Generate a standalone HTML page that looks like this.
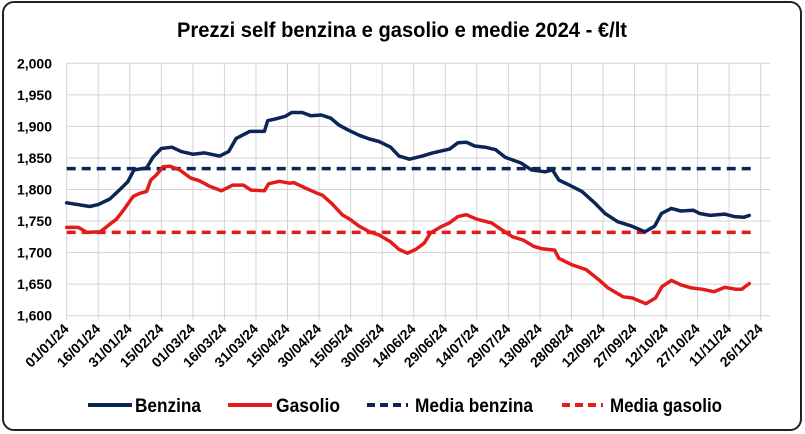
<!DOCTYPE html>
<html><head><meta charset="utf-8"><style>
html,body{margin:0;padding:0;background:#fff;}
svg{display:block;font-family:"Liberation Sans Narrow","Liberation Sans",sans-serif;}
</style></head><body>
<svg id="chart" width="805" height="434" viewBox="0 0 805 434" xmlns="http://www.w3.org/2000/svg">
<rect x="3" y="2" width="798" height="428" rx="11" fill="#fff" stroke="#222" stroke-width="2"/>
<text x="402" y="37" text-anchor="middle" font-size="21" font-weight="bold" textLength="450" lengthAdjust="spacingAndGlyphs">Prezzi self benzina e gasolio e medie 2024 - €/lt</text>
<g id="grid"></g><g id="axes"></g><g id="series"></g>
<g>
<line x1="88" y1="405" x2="132" y2="405" stroke="#0d2457" stroke-width="4"/>
<text x="135" y="412" font-size="19" font-weight="bold" textLength="66" lengthAdjust="spacingAndGlyphs">Benzina</text>
<line x1="228" y1="405" x2="272" y2="405" stroke="#e31b1b" stroke-width="4"/>
<text x="276" y="412" font-size="19" font-weight="bold" textLength="64" lengthAdjust="spacingAndGlyphs">Gasolio</text>
<line x1="367" y1="405" x2="408" y2="405" stroke="#0d2457" stroke-width="4" stroke-dasharray="8,5"/>
<text x="415" y="412" font-size="19" font-weight="bold" textLength="118" lengthAdjust="spacingAndGlyphs">Media benzina</text>
<line x1="562" y1="405" x2="603" y2="405" stroke="#e31b1b" stroke-width="4" stroke-dasharray="8,5"/>
<text x="610" y="412" font-size="19" font-weight="bold" textLength="112" lengthAdjust="spacingAndGlyphs">Media gasolio</text>
</g>
</svg>
<script>
const xTickLabels=["01/01/24","16/01/24","31/01/24","15/02/24","01/03/24","16/03/24","31/03/24","15/04/24","30/04/24","15/05/24","30/05/24","14/06/24","29/06/24","14/07/24","29/07/24","13/08/24","28/08/24","12/09/24","27/09/24","12/10/24","27/10/24","11/11/24","26/11/24"];
const yTicks=[1.6,1.65,1.7,1.75,1.8,1.85,1.9,1.95,2.0];
const benzinaDays=[0,11,15,20.5,25,29,32,38,41,45,50,54.5,60,65.6,72.7,77,80.6,87,94,95.6,99.5,104,107,112,116,121,125.6,129.5,134,139,144,148.5,154,158,163,169,174,182,186,190,194,199,204,208.5,216,221,227.5,231,234,239,245,251,256,262,268.6,275,279.6,282.8,287.5,292,298,301,306,312.8,317.5,322,324.6];
const benzinaValues=[1.779,1.773,1.776,1.785,1.799,1.812,1.831,1.834,1.851,1.865,1.867,1.860,1.856,1.858,1.853,1.860,1.881,1.892,1.892,1.909,1.912,1.916,1.922,1.922,1.917,1.918,1.913,1.902,1.894,1.886,1.880,1.876,1.867,1.853,1.848,1.853,1.858,1.864,1.874,1.875,1.869,1.867,1.863,1.851,1.842,1.831,1.828,1.831,1.815,1.807,1.797,1.779,1.762,1.749,1.742,1.733,1.742,1.762,1.770,1.766,1.767,1.762,1.759,1.761,1.757,1.756,1.759];
const gasolioDays=[0,5.5,9.5,16,20.5,23.7,27.6,31.6,34.8,38,40,42.6,45.8,49,53.7,59,63,68,73.5,79,84,87.7,94,96,101,106,108,113,118.5,121.6,126,131,135,139,144,148.5,154,158,162,166,170,173,178,182,186,190,195,202,207,212,217,222,226,232,234,240,247,253,257.4,264.5,269,275.4,280,283,287.6,292,297,302,307.8,313,318,321,324.6];
const gasolioValues=[1.740,1.740,1.732,1.733,1.745,1.753,1.770,1.789,1.794,1.797,1.815,1.823,1.836,1.837,1.831,1.818,1.814,1.805,1.798,1.807,1.807,1.799,1.798,1.809,1.813,1.810,1.811,1.803,1.795,1.791,1.778,1.760,1.752,1.742,1.733,1.728,1.717,1.705,1.699,1.705,1.715,1.731,1.741,1.747,1.757,1.760,1.753,1.747,1.736,1.725,1.720,1.710,1.706,1.704,1.691,1.681,1.673,1.657,1.644,1.630,1.628,1.619,1.628,1.646,1.656,1.649,1.644,1.642,1.638,1.645,1.642,1.642,1.651];
const mediaBenzina=1.833;
const mediaGasolio=1.732;
const DAY_STEP=15;

const NS="http://www.w3.org/2000/svg";
const X0=66.7,X1=760.7,DMAX=330,PR=770,Y0=315.7,Y1=63.3,VMIN=1.6,VMAX=2.0;
const xS=d=>X0+(d/DMAX)*(X1-X0);
const yS=v=>Y0-(v-VMIN)/(VMAX-VMIN)*(Y0-Y1);
function mk(tag,attrs,parent){const e=document.createElementNS(NS,tag);for(const k in attrs)e.setAttribute(k,attrs[k]);parent.appendChild(e);return e;}
const grid=document.getElementById('grid'),axes=document.getElementById('axes'),series=document.getElementById('series');
yTicks.forEach(v=>{
  const l=mk('line',{x1:X0,x2:PR,y1:yS(v),y2:yS(v),stroke:'#d4d4d4','stroke-width':1},grid);
  
  
  const t=mk('text',{x:52,y:yS(v)+5,'text-anchor':'end','font-size':14,'font-weight':'bold'},axes);
  
  
  t.textContent=v.toFixed(3).replace('.',',');
});
xTickLabels.forEach((lab,i)=>{
  const x=xS(i*DAY_STEP);
  const l=mk('line',{x1:x,x2:x,y1:Y1,y2:Y0+4,stroke:'#d4d4d4','stroke-width':1},grid);
  
  
  const t=mk('text',{x:x+3,y:Y0+14,'text-anchor':'end','font-size':14,'font-weight':'bold',transform:`rotate(-45 ${x+3} ${Y0+14})`},axes);
  
  
  t.textContent=lab;
});
function avgLine(v,color,name){
  const l=mk('line',{x1:X0,x2:xS(326),y1:yS(v),y2:yS(v),stroke:color,'stroke-width':3.5,'stroke-dasharray':'9,6'},series);
  
  
}
avgLine(mediaBenzina,'#0d2457','media-benzina-line');
avgLine(mediaGasolio,'#e31b1b','media-gasolio-line');
function path(days,vals,color,name){
  const d=days.map((dd,i)=>(i?'L':'M')+xS(dd).toFixed(1)+','+yS(vals[i]).toFixed(1)).join(' ');
  const p=mk('path',{d:d,fill:'none',stroke:color,'stroke-width':3.5,'stroke-linejoin':'round','stroke-linecap':'round'},series);
  
  
}
path(benzinaDays,benzinaValues,'#0d2457','benzina-line');
path(gasolioDays,gasolioValues,'#e31b1b','gasolio-line');
</script>
</body></html>
